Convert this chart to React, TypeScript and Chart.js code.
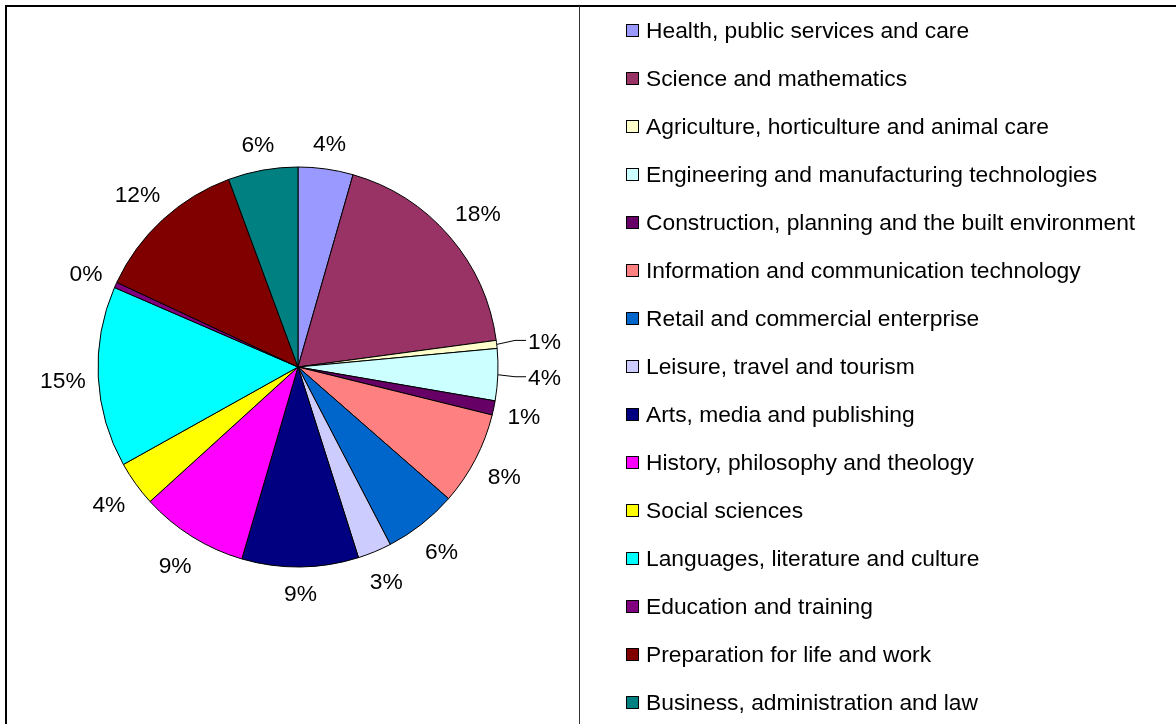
import { useEffect, useRef } from "react";
import { Chart, registerables } from "chart.js";

Chart.register(...registerables);

const categories = [
  "Health, public services and care",
  "Science and mathematics",
  "Agriculture, horticulture and animal care",
  "Engineering and manufacturing technologies",
  "Construction, planning and the built environment",
  "Information and communication technology",
  "Retail and commercial enterprise",
  "Leisure, travel and tourism",
  "Arts, media and publishing",
  "History, philosophy and theology",
  "Social sciences",
  "Languages, literature and culture",
  "Education and training",
  "Preparation for life and work",
  "Business, administration and law",
];

const values = [4.45, 18.49, 0.65, 4.2, 1.15, 7.6, 5.95, 2.75, 9.45, 8.75, 3.65, 14.65, 0.45, 12.45, 5.65];

const colors = [
  "#9999FF", "#993366", "#FFFFCC", "#CCFFFF", "#660066",
  "#FF8080", "#0066CC", "#CCCCFF", "#000080", "#FF00FF",
  "#FFFF00", "#00FFFF", "#800080", "#800000", "#008080",
];

// label layout tweaks (styling, not data): slices whose labels use leader lines
const LEADER_DY: Record<number, number> = { 2: -4, 3: 2 };

const FONT = '22.8px "Liberation Sans", Arial, sans-serif';
const W = 1176;
const H = 724;
const TEXT_SHIFT = 2;

export default function App() {
  const ref = useRef<HTMLCanvasElement>(null);

  useEffect(() => {
    if (!ref.current) return;
    const total = values.reduce((a, b) => a + b, 0);

    const overlay = {
      id: "overlay",
      afterDraw(chart: any) {
        const ctx = chart.ctx as CanvasRenderingContext2D;
        ctx.save();
        // frame
        ctx.fillStyle = "#000";
        ctx.fillRect(5, 5, W - 5, 2);
        ctx.fillRect(5, 5, 2, H - 5);
        ctx.fillStyle = "#333";
        ctx.fillRect(579, 6, 1, H - 6);

        // data labels
        ctx.font = FONT;
        ctx.fillStyle = "#000";
        ctx.textBaseline = "middle";
        const meta = chart.getDatasetMeta(0);
        meta.data.forEach((arc: any, i: number) => {
          const p = arc.getProps(["x", "y", "startAngle", "endAngle", "outerRadius"], true);
          const mid = (p.startAngle + p.endAngle) / 2;
          const ux = Math.cos(mid);
          const uy = Math.sin(mid);
          const txt = Math.round((values[i] / total) * 100) + "%";
          const w = ctx.measureText(txt).width;
          if (i in LEADER_DY) {
            const ex = p.x + ux * p.outerRadius;
            const ey = p.y + uy * p.outerRadius;
            const left = p.x + p.outerRadius + 30;
            const ly = ey + LEADER_DY[i];
            ctx.strokeStyle = "#000";
            ctx.lineWidth = 1;
            ctx.beginPath();
            ctx.moveTo(ex, ey);
            ctx.lineTo(left - 13, ly);
            ctx.lineTo(left - 2, ly);
            ctx.stroke();
            ctx.textAlign = "left";
            ctx.fillText(txt, left, ly + TEXT_SHIFT);
          } else {
            const ext = (w / 2) * Math.abs(ux) + 13 * Math.abs(uy);
            const d = p.outerRadius + 12 + ext;
            ctx.textAlign = "center";
            ctx.fillText(txt, p.x + ux * d, p.y + uy * d + TEXT_SHIFT + 1);
          }
        });

        // legend
        ctx.textAlign = "left";
        categories.forEach((c, i) => {
          const y = 31 + 48 * i;
          ctx.fillStyle = colors[i];
          ctx.fillRect(626.5, y - 6.5, 12, 12);
          ctx.strokeStyle = "#000";
          ctx.lineWidth = 1;
          ctx.strokeRect(626.5, y - 6.5, 12, 12);
          ctx.fillStyle = "#000";
          ctx.fillText(c, 646, y + 1);
        });
        ctx.restore();
      },
    };

    const left = 97.5;
    const top = 166.5;
    const size = 401;
    const chart = new Chart(ref.current, {
      type: "pie",
      data: {
        labels: categories,
        datasets: [
          {
            data: values,
            backgroundColor: colors,
            borderColor: "#000",
            borderWidth: 1,
          },
        ],
      },
      options: {
        responsive: false,
        animation: false,
        layout: {
          padding: { left, top, right: W - left - size, bottom: H - top - size },
        },
        plugins: {
          legend: { display: false },
          tooltip: { enabled: false },
        },
      },
      plugins: [overlay],
    });
    return () => chart.destroy();
  }, []);

  return (
    <div style={{ position: "fixed", left: 0, top: 0, width: W, height: H, background: "#fff" }}>
      <canvas ref={ref} width={W} height={H} style={{ display: "block", width: W, height: H }} />
    </div>
  );
}
